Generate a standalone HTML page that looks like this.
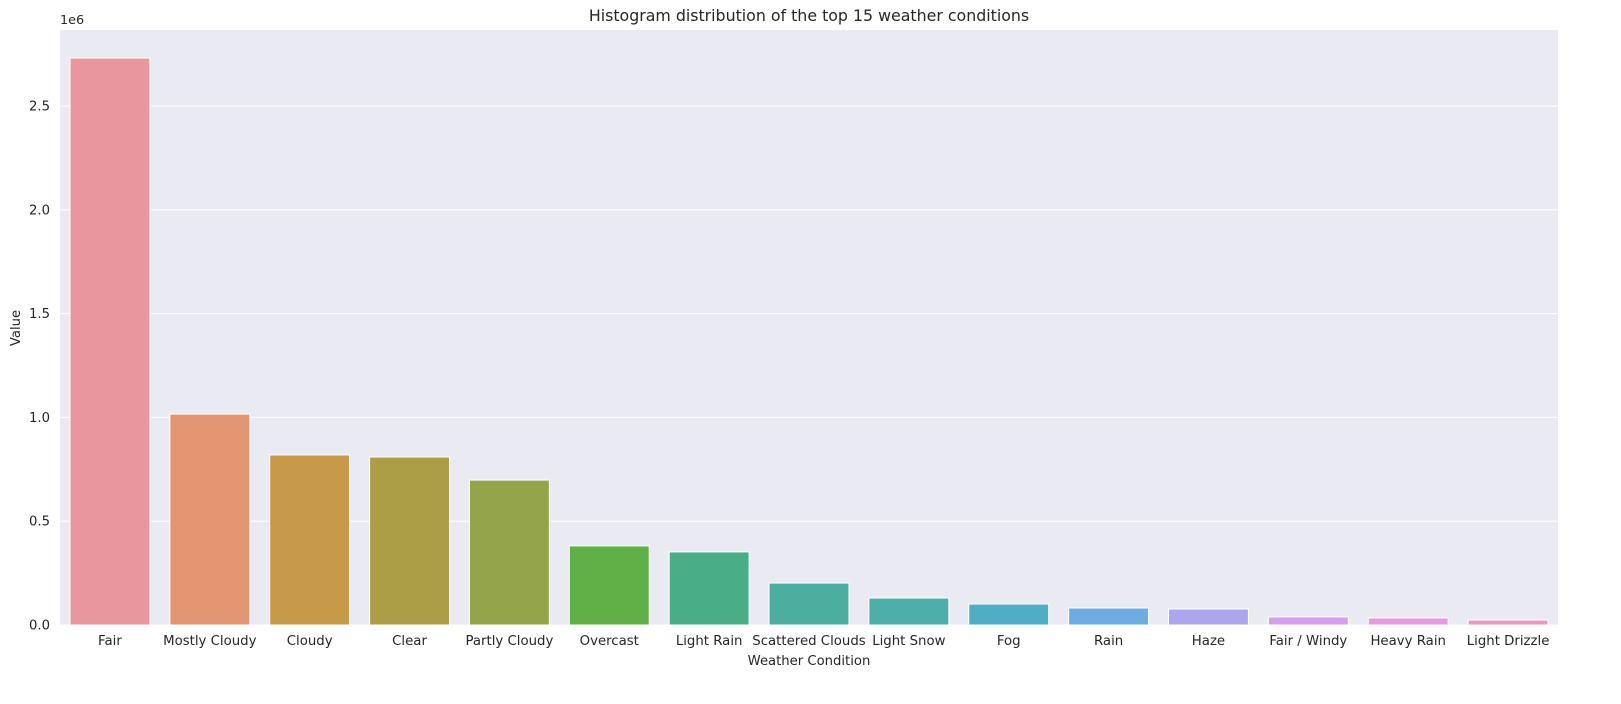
<!DOCTYPE html>
<html><head><meta charset="utf-8"><style>
body{margin:0;background:#fff;font-family:"Liberation Sans","DejaVu Sans",sans-serif;}
</style></head><body>
<svg id="chart" width="1621" height="699" xmlns="http://www.w3.org/2000/svg" font-family="DejaVu Sans, Liberation Sans, sans-serif">
<rect x="60" y="30" width="1498" height="595" fill="#eaeaf2"/>
<g id="grid"></g><g id="bars"></g><g id="xt"></g><g id="yt"></g>
<text x="809" y="21" text-anchor="middle" font-size="15.8" fill="#262626">Histogram distribution of the top 15 weather conditions</text>
<text x="809" y="665" text-anchor="middle" font-size="13.2" fill="#262626">Weather Condition</text>
<text transform="translate(20,328) rotate(-90)" text-anchor="middle" font-size="13.2" fill="#262626">Value</text>
<text x="60" y="24" font-size="12.8" fill="#262626">1e6</text>
</svg>
<script>
const categories=["Fair","Mostly Cloudy","Cloudy","Clear","Partly Cloudy","Overcast","Light Rain","Scattered Clouds","Light Snow","Fog","Rain","Haze","Fair / Windy","Heavy Rain","Light Drizzle"];
const values=[2.731,1.016,0.819,0.809,0.698,0.381,0.352,0.202,0.130,0.101,0.082,0.077,0.039,0.034,0.024];
const colors=["#e9969f","#e39571","#c79a4a","#ab9e47","#93a548","#60b048","#49ae86","#4cae9f","#4daeaa","#4faec4","#6cace2","#aba6ee","#d59eec","#e79ae0","#ea99c1"];
const yTicks=[0,0.5,1.0,1.5,2.0,2.5];
const yTickLabels=["0.0","0.5","1.0","1.5","2.0","2.5"];
const NS="http://www.w3.org/2000/svg";
const x0=60,x1=1558,y0=625,yTop=30,yMax=2.866;
const band=(x1-x0)/categories.length;
const xs=i=>x0+band*i+band/2;
const ys=v=>y0-(y0-yTop)*v/yMax;
function mk(t,a,p,txt){const e=document.createElementNS(NS,t);for(const k in a)e.setAttribute(k,a[k]);if(txt!==undefined)e.textContent=txt;document.getElementById(p).appendChild(e);return e;}
yTicks.forEach((t,i)=>{
 const l=mk("line",{x1:x0,x2:x1,y1:ys(t),y2:ys(t),stroke:"#fff","stroke-width":1},"grid");
 
 
 const tx=mk("text",{x:x0-10,y:ys(t)+4.5,"text-anchor":"end","font-size":13.2,fill:"#262626"},"yt",yTickLabels[i]);
 
 
});
categories.forEach((c,i)=>{
 const w=band*0.8;
 const r=mk("rect",{x:xs(i)-w/2,y:ys(values[i]),width:w,height:y0-ys(values[i]),fill:colors[i],stroke:"#fff","stroke-width":1},"bars");
 
 
 const t=mk("text",{x:xs(i),y:y0+20,"text-anchor":"middle","font-size":13.3,fill:"#262626"},"xt",c);
 
 
});
</script>
</body></html>
